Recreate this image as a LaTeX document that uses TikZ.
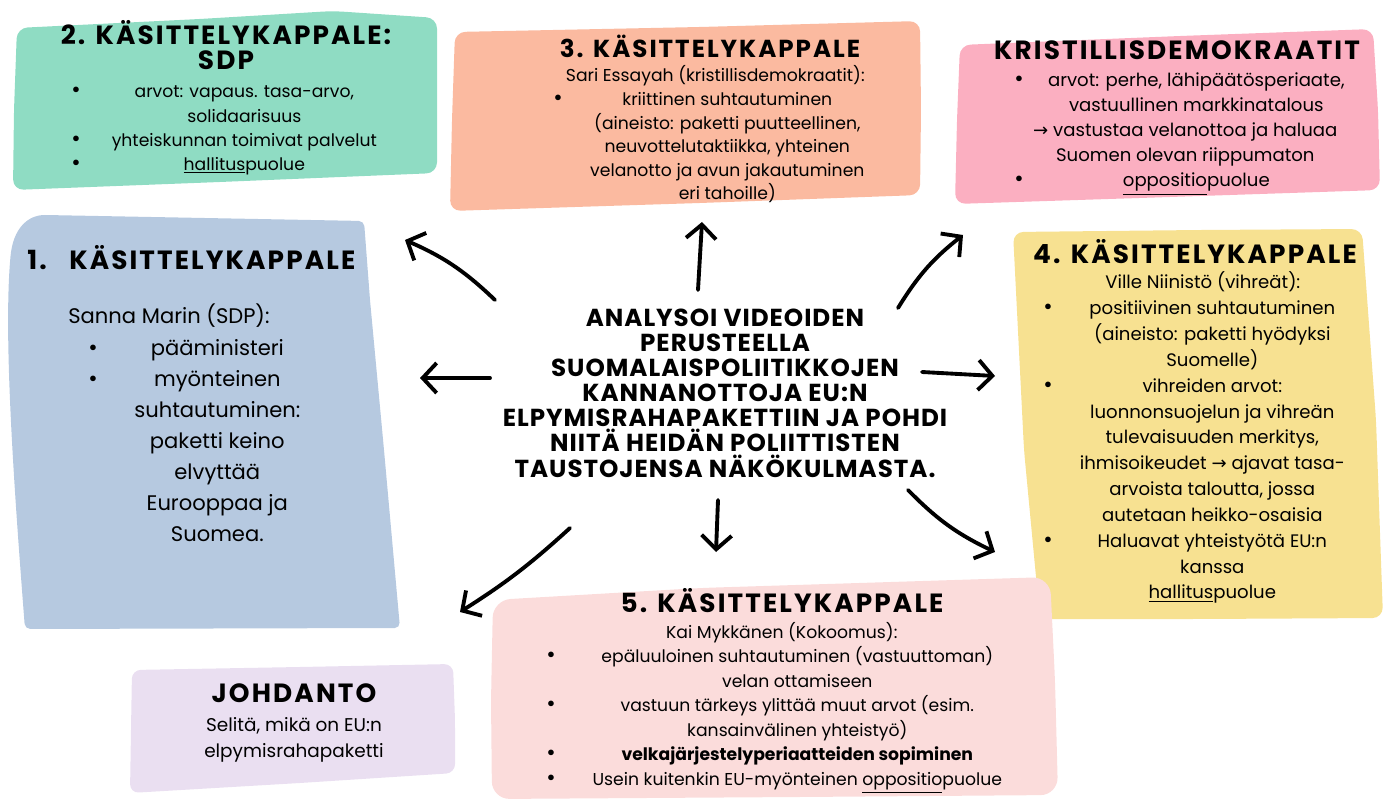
\documentclass[tikz,border=0pt]{standalone}
\usepackage{fontspec}
\usepackage{array}
\setmainfont{Poppins}
\newfontfamily\ttlfont{Poppins}[LetterSpace=8]
\newfontfamily\taskfont{Poppins}[LetterSpace=4]
\newfontfamily\arrowfont{DejaVu Sans}
\usetikzlibrary{
    positioning,
    arrows.meta}
\definecolor{sdpgreen}{HTML}{8FDCC3}
\definecolor{peach}{HTML}{FBBAA0}
\definecolor{kdpink}{HTML}{FBAFC1}
\definecolor{marinblue}{HTML}{B6C9E0}
\definecolor{greenyellow}{HTML}{F7E191}
\definecolor{rosepale}{HTML}{FBDCDB}
\definecolor{lavender}{HTML}{EADFF1}
\newcolumntype{C}[1]{>{\centering\arraybackslash}p{#1}}
\newcommand{\blt}{{\fontsize{13}{0}\selectfont\textbullet}}
\newcommand{\ra}{{\arrowfont →}}
\tikzset{ttl/.style={font=\fontsize{15}{14.5}\selectfont\ttlfont\bfseries, inner sep=0pt, align=center}}
\tikzset{txt/.style={font=\fontsize{9.8}{13.7}\selectfont, inner sep=0pt, anchor=base west}}
\tikzset{task/.style={font=\fontsize{14}{14.3}\selectfont\taskfont\bfseries, inner sep=2pt, align=center}}
\tikzset{arr/.style={line width=2.2pt, line cap=round, -{Straight Barb[length=2.8mm,width=6mm,line width=2.2pt]}}}

\begin{document}
\begin{tikzpicture}[x=0.02cm, y=-0.02cm]
    \useasboundingbox (0,0) rectangle (1386,800);

    % paper blobs
    \fill[sdpgreen, rounded corners=6pt] (17,28) -- (200,19) -- (333,11) -- (437,18) -- (437,100) -- (437,173) -- (220,182) -- (13,190) -- (14,110) -- cycle;
    \fill[peach, rounded corners=6pt] (455,32) -- (700,27) -- (920,21) -- (921,110) -- (920,195) -- (700,203) -- (450,211) -- (452,120) -- cycle;
    \fill[kdpink, rounded corners=6pt] (960,45) -- (1180,36) -- (1373,29) -- (1378,110) -- (1380,190) -- (1170,197) -- (955,204) -- (957,120) -- cycle;
    \fill[marinblue, rounded corners=3pt] (45,215) -- (364,221) -- (370,300) -- (384,450) -- (400,628) -- (25,629) .. controls (15,500) and (4,350) .. (10,262) .. controls (13,228) and (28,215) .. (45,215);
    \fill[greenyellow, rounded corners=6pt] (1013,232) -- (1200,230) -- (1362,229) -- (1376,420) -- (1383,618) -- (1200,619) -- (1040,619) -- (1024,450) -- cycle;
    \fill[rosepale, rounded corners=10pt] (493,600) -- (700,588) -- (1050,577) -- (1055,680) -- (1058,795) -- (800,797) -- (492,799) -- (491,700) -- cycle;
    \fill[lavender, rounded corners=5pt] (132,670) -- (300,667) -- (453,664) -- (455,720) -- (455,773) -- (300,783) -- (130,793) -- (131,730) -- cycle;

    % centre task
    \node[task] (task) at (725,393) {ANALYSOI VIDEOIDEN\\PERUSTEELLA\\SUOMALAISPOLIITIKKOJEN\\KANNANOTTOJA EU:N\\ELPYMISRAHAPAKETTIIN JA POHDI\\NIITÄ HEIDÄN POLIITTISTEN\\TAUSTOJENSA NÄKÖKULMASTA.};

    % 2. SDP
    \node[ttl] (sdpttl) at (226,45) {2. KÄSITTELYKAPPALE:\\SDP};
    \node[txt] (sdpbody) at (71,98) {\begin{tabular}[t]{@{}p{0.26cm}@{}C{6.4cm}@{}}
        \blt & arvot: vapaus. tasa-arvo,\\
             & solidaarisuus\\
        \blt & yhteiskunnan toimivat palvelut\\
        \blt & \underline{hallitus}puolue
    \end{tabular}};

    % 3. Essayah
    \node[ttl, font=\fontsize{14}{14.5}\selectfont\ttlfont\bfseries] (essttl) at (710,46) {3. KÄSITTELYKAPPALE};
    \node[txt, font=\fontsize{9.8}{13.4}\selectfont] (essbody) at (553,82) {\begin{tabular}[t]{@{}p{0.48cm}@{}C{6cm}@{}}
        \multicolumn{2}{c}{Sari Essayah (kristillisdemokraatit):}\\
        \blt & kriittinen suhtautuminen\\
             & (aineisto: paketti puutteellinen,\\
             & neuvottelutaktiikka, yhteinen\\
             & velanotto ja avun jakautuminen\\
             & eri tahoille)
    \end{tabular}};

    % Kristillisdemokraatit
    \node[ttl] (kdttl) at (1177,50) {KRISTILLISDEMOKRAATIT};
    \node[txt, font=\fontsize{10.3}{14.2}\selectfont] (kdbody) at (1014,87) {\begin{tabular}[t]{@{}p{0.44cm}@{}C{6.4cm}@{}}
        \blt & arvot: perhe, lähipäätösperiaate,\\
             & vastuullinen markkinatalous\\
        \multicolumn{2}{c}{\ra\ vastustaa velanottoa ja haluaa}\\
        \multicolumn{2}{c}{Suomen olevan riippumaton}\\
        \blt & \underline{oppositio}puolue
    \end{tabular}};

    % 1. Marin
    \node[ttl, anchor=west] (marinttl) at (27,258) {1.\hspace{0.45cm}KÄSITTELYKAPPALE};
    \node[txt, font=\fontsize{12}{17.6}\selectfont] (marinlbl) at (68,324) {Sanna Marin (SDP):};
    \node[txt, font=\fontsize{12}{17.6}\selectfont] (marinbody) at (88,356) {\begin{tabular}[t]{@{}p{0.58cm}@{}C{4cm}@{}}
        \blt & pääministeri\\
        \blt & myönteinen\\
             & suhtautuminen:\\
             & paketti keino\\
             & elvyttää\\
             & Eurooppaa ja\\
             & Suomea.
    \end{tabular}};

    % 4. Niinisto
    \node[ttl] (niittl) at (1195,252) {4. KÄSITTELYKAPPALE};
    \node[txt, font=\fontsize{10.3}{14.7}\selectfont] (niibody) at (1043,289) {\begin{tabular}[t]{@{}p{0.38cm}@{}C{6cm}@{}}
        \multicolumn{2}{c}{Ville Niinistö (vihreät):}\\
        \blt & positiivinen suhtautuminen\\
             & (aineisto: paketti hyödyksi\\
             & Suomelle)\\
        \blt & vihreiden arvot:\\
             & luonnonsuojelun ja vihreän\\
             & tulevaisuuden merkitys,\\
             & ihmisoikeudet \ra\ ajavat tasa-\\
             & arvoista taloutta, jossa\\
             & autetaan heikko-osaisia\\
        \blt & Haluavat yhteistyötä EU:n\\
             & kanssa\\
             & \underline{hallitus}puolue
    \end{tabular}};

    % 5. Mykkanen
    \node[ttl] (mykttl) at (782,601) {5. KÄSITTELYKAPPALE};
    \node[txt, font=\fontsize{9.8}{14}\selectfont] (mykbody) at (546,638) {\begin{tabular}[t]{@{}p{0.62cm}@{}C{8.8cm}@{}}
        \multicolumn{2}{c}{Kai Mykkänen (Kokoomus):}\\
        \blt & epäluuloinen suhtautuminen (vastuuttoman)\\
             & velan ottamiseen\\
        \blt & vastuun tärkeys ylittää muut arvot (esim.\\
             & kansainvälinen yhteistyö)\\
        \blt & \textbf{velkajärjestelyperiaatteiden sopiminen}\\
        \blt & Usein kuitenkin EU-myönteinen \underline{oppositio}puolue
    \end{tabular}};

    % Johdanto
    \node[ttl] (johttl) at (294,693) {JOHDANTO};
    \node[txt, font=\fontsize{10.5}{14.8}\selectfont, anchor=center, align=center] (johbody) at (294,740) {Selitä, mikä on EU:n\\elpymisrahapaketti};

    % arrow ends
    \coordinate (s1) at (495,300);  \coordinate (e1) at (405,240);
    \coordinate (s2) at (698,290);  \coordinate (e2) at (702,222);
    \coordinate (s3) at (898,308);  \coordinate (e3) at (963,235);
    \coordinate (s4) at (490,378);  \coordinate (e4) at (420,378);
    \coordinate (s5) at (922,372);  \coordinate (e5) at (995,376);
    \coordinate (s6) at (570,528);  \coordinate (e6) at (460,612);
    \coordinate (s7) at (718,500);  \coordinate (e7) at (716,552);
    \coordinate (s8) at (908,490);  \coordinate (e8) at (995,552);

    \draw[arr] (s1) to[bend right=10] (e1);
    \draw[arr] (s2) -- (e2);
    \draw[arr] (s3) to[bend left=10] (e3);
    \draw[arr] (s4) -- (e4);
    \draw[arr] (s5) -- (e5);
    \draw[arr] (s6) to[bend left=5] (e6);
    \draw[arr] (s7) -- (e7);
    \draw[arr] (s8) to[bend right=10] (e8);

\end{tikzpicture}
\end{document}
